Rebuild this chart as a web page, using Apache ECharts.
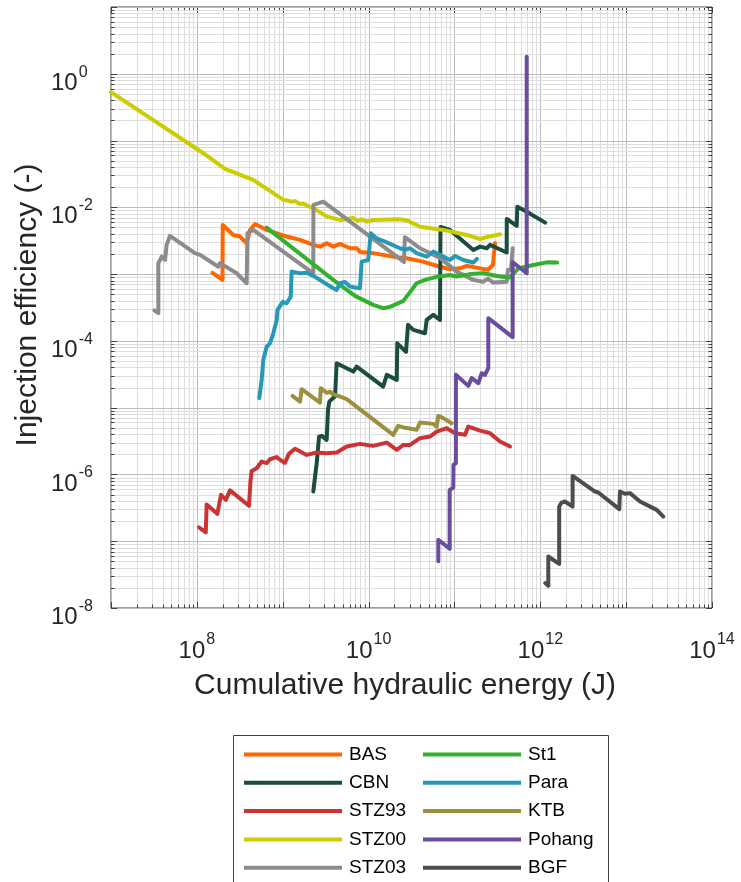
<!DOCTYPE html>
<html>
<head>
<meta charset="utf-8">
<script src="https://cdn.jsdelivr.net/npm/echarts@6/dist/echarts.min.js"></script>
<style>
  html, body { margin: 0; padding: 0; background: #fff; }
  #chart { width: 741px; height: 882px; }
</style>
</head>
<body>
<div id="chart"></div>
<script>
// Injection efficiency vs cumulative hydraulic energy, per stimulation project.
const SERIES_NAMES = ['BAS', 'CBN', 'STZ93', 'STZ00', 'STZ03', 'St1', 'Para', 'KTB', 'Pohang', 'BGF'];
const SERIES_COLORS = ['#ff6600', '#1b4d3e', '#cc3333', '#cccc00', '#8c8c8c', '#33b02e', '#2699b8', '#9a9040', '#6a4d9e', '#4d4d4d'];

// [cumulative hydraulic energy (J), injection efficiency (-)]
const BAS = [
  [1.52e8, 1.04e-3], [1.99e8, 8.2e-4], [2.0e8, 5.46e-3], [2.66e8, 3.86e-3], [3.18e8, 3.65e-3],
  [3.8e8, 2.9e-3], [4.16e8, 4.59e-3], [4.76e8, 5.64e-3], [6.5e8, 4.59e-3], [1.11e9, 3.65e-3],
  [1.59e9, 3.25e-3], [2.27e9, 2.74e-3], [2.72e9, 2.58e-3], [3.25e9, 2.9e-3], [3.88e9, 2.58e-3],
  [4.65e9, 2.83e-3], [6.08e9, 2.44e-3], [7.3e9, 2.44e-3], [7.95e9, 2.15e-3], [1.13e10, 2.06e-3],
  [1.47e10, 1.94e-3], [2.13e10, 1.79e-3], [2.78e10, 1.73e-3], [4.3e10, 1.54e-3], [6.79e10, 1.29e-3],
  [8.88e10, 1.18e-3], [1.16e11, 1.22e-3], [1.39e11, 1.33e-3], [1.99e11, 1.22e-3], [2.46e11, 1.16e-3],
  [2.81e11, 1.37e-3], [2.97e11, 2.93e-3]
];
const CBN = [
  [2.27e9, 5.55e-7], [2.49e9, 1.48e-6], [2.65e9, 3.69e-6], [2.85e9, 3.78e-6], [3.25e9, 3.3e-6],
  [3.37e9, 9.3e-6], [3.49e9, 1.23e-5], [3.85e9, 1.39e-5], [4.07e9, 1.47e-5], [4.25e9, 4.63e-5],
  [5.56e9, 3.9e-5], [6.64e9, 3.47e-5], [7.27e9, 4.12e-5], [1.48e10, 2.07e-5], [1.63e10, 3.1e-5],
  [2.13e10, 2.61e-5], [2.16e10, 9.2e-5], [2.73e10, 6.84e-5], [2.88e10, 1.74e-4], [3.32e10, 1.46e-4],
  [4.54e10, 1.3e-4], [4.75e10, 2.06e-4], [5.67e10, 2.45e-4], [6.79e10, 2.06e-4], [6.88e10, 5.09e-3],
  [8.88e10, 4.59e-3], [1.66e11, 2.3e-3], [1.99e11, 2.58e-3], [2.38e11, 2.44e-3], [2.6e11, 2.74e-3],
  [4.06e11, 2.11e-3], [4.07e11, 6.7e-3], [5.31e11, 5.27e-3], [5.4e11, 1.02e-2], [6.95e11, 8.6e-3],
  [1.14e12, 5.9e-3]
];
const STZ93 = [
  [1.06e8, 1.61e-7], [1.27e8, 1.36e-7], [1.3e8, 3.56e-7], [1.73e8, 2.57e-7], [1.91e8, 4.95e-7],
  [2.18e8, 4.17e-7], [2.43e8, 5.78e-7], [4.05e8, 3.39e-7], [4.21e8, 7.88e-7], [4.35e8, 1.13e-6],
  [4.98e8, 1.24e-6], [5.69e8, 1.56e-6], [6.5e8, 1.48e-6], [7.11e8, 1.69e-6], [8.5e8, 1.82e-6],
  [9.3e8, 1.66e-6], [1.06e9, 1.49e-6], [1.18e9, 2.03e-6], [1.39e9, 2.42e-6], [1.9e9, 1.96e-6],
  [2.49e9, 2.13e-6], [3.25e9, 2.08e-6], [4.25e9, 2.13e-6], [5.56e9, 2.62e-6], [7.94e9, 2.87e-6],
  [1.13e10, 2.68e-6], [1.63e10, 3.0e-6], [2.13e10, 2.34e-6], [2.54e10, 2.77e-6], [3.04e10, 2.77e-6],
  [3.97e10, 3.49e-6], [5.19e10, 3.69e-6], [6.21e10, 4.39e-6], [8.12e10, 4.93e-6], [1.02e11, 4.15e-6],
  [1.33e11, 3.92e-6], [1.45e11, 5.21e-6], [1.99e11, 4.54e-6], [2.6e11, 4.15e-6], [3.4e11, 3.11e-6],
  [4.44e11, 2.62e-6]
];
const STZ00 = [
  [1e7, 0.53], [1.19e8, 0.0646], [2.13e8, 0.0376], [4.54e8, 0.0257], [7.1e8, 0.0176],
  [1.02e9, 0.0129], [1.11e9, 0.0128], [1.27e9, 0.0121], [1.39e9, 0.0124], [1.59e9, 0.0112],
  [1.74e9, 0.0114], [2.08e9, 0.0101], [2.25e9, 0.0098], [3.28e9, 0.00726], [4.65e9, 0.00648],
  [6.59e9, 0.00694], [7.5e9, 0.0063], [8.3e9, 0.0066], [9.6e9, 0.0061], [1.13e10, 0.00648],
  [2.32e10, 0.00664], [2.8e10, 0.00637], [3.98e10, 0.00513], [7.4e10, 0.00459], [1.4e11, 0.00386],
  [1.99e11, 0.00336], [2.4e11, 0.0036], [3.4e11, 0.00395]
];
const STZ03 = [
  [3.2e7, 2.86e-4], [3.56e7, 2.6e-4], [3.56e7, 1.46e-3], [3.9e7, 1.83e-3], [4.26e7, 1.63e-3],
  [4.45e7, 2.74e-3], [4.65e7, 2.58e-3], [4.86e7, 3.73e-3], [9.5e7, 2.06e-3], [1.09e8, 1.94e-3],
  [1.78e8, 1.29e-3], [1.86e8, 1.46e-3], [2.91e8, 1.03e-3], [3.8e8, 7.3e-4], [3.89e8, 4.14e-3],
  [4.54e8, 4.59e-3], [2.27e9, 1.03e-3], [2.28e9, 1.086e-2], [2.97e9, 1.217e-2], [2.58e10, 1.52e-3],
  [2.65e10, 3.57e-3], [3.97e10, 2.44e-3], [6.79e10, 1.75e-3], [1.06e11, 1.09e-3], [1.66e11, 8.2e-4],
  [2.15e11, 7.7e-4], [2.46e11, 8.5e-4], [2.81e11, 7.5e-4], [4.06e11, 7.7e-4], [4.2e11, 1.16e-3],
  [4.56e11, 1.16e-3], [4.77e11, 2.44e-3]
];
const ST1 = [
  [6.5e8, 4.97e-3], [3.88e9, 8.2e-4], [6.95e9, 4.72e-4], [1.13e10, 3.46e-4], [1.48e10, 3.09e-4],
  [1.77e10, 3.23e-4], [2.13e10, 3.58e-4], [2.54e10, 3.97e-4], [3.18e10, 5.8e-4], [3.63e10, 7.3e-4],
  [4.54e10, 8.2e-4], [6.21e10, 9.1e-4], [8.88e10, 9.7e-4], [1.06e11, 9.2e-4], [1.52e11, 1.0e-3],
  [2.17e11, 1.03e-3], [3.4e11, 9.2e-4], [4.44e11, 8.9e-4], [5.55e11, 1.22e-3], [8.3e11, 1.37e-3],
  [1.19e12, 1.5e-3], [1.57e12, 1.49e-3]
];
const PARA = [
  [5.33e8, 1.39e-5], [5.69e8, 2.61e-5], [5.94e8, 5.2e-5], [6.5e8, 8.2e-5], [7.1e8, 9.2e-5],
  [7.77e8, 1.3e-4], [8.5e8, 2.06e-4], [8.7e8, 2.91e-4], [1.0e9, 3.84e-4], [1.11e9, 3.66e-4],
  [1.24e9, 4.6e-4], [1.27e9, 1.09e-3], [1.59e9, 1.03e-3], [1.9e9, 1.05e-3], [2.27e9, 9.4e-4],
  [3.88e9, 6.15e-4], [4.25e9, 5.8e-4], [4.65e9, 7.3e-4], [5.31e9, 7.6e-4], [6.08e9, 6.5e-4],
  [7.94e9, 6.15e-4], [8.3e9, 1.54e-3], [9.9e9, 1.63e-3], [1.06e10, 4.09e-3], [1.24e10, 3.44e-3],
  [1.55e10, 3.07e-3], [1.63e10, 3.25e-3], [2.32e10, 2.44e-3], [2.65e10, 2.3e-3], [3.04e10, 2.44e-3],
  [3.63e10, 2.06e-3], [4.75e10, 1.83e-3], [5.67e10, 2.17e-3], [6.79e10, 1.94e-3], [8.88e10, 1.63e-3],
  [1.02e11, 1.87e-3], [1.27e11, 1.63e-3], [1.66e11, 1.49e-3], [1.83e11, 1.69e-3]
];
const KTB = [
  [1.3e9, 1.5e-5], [1.59e9, 1.23e-5], [1.66e9, 1.89e-5], [2.72e9, 1.19e-5], [2.77e9, 1.96e-5],
  [3.28e9, 1.67e-5], [3.55e9, 1.74e-5], [3.88e9, 1.58e-5], [4.65e9, 1.47e-5], [5.56e9, 1.34e-5],
  [1.94e10, 3.92e-6], [2.22e10, 5.35e-6], [2.65e10, 4.99e-6], [3.63e10, 4.66e-6], [3.97e10, 5.99e-6],
  [5.67e10, 5.72e-6], [6.21e10, 5.21e-6], [6.49e10, 7.54e-6], [7.41e10, 6.97e-6], [9.29e10, 5.86e-6]
];
const POHANG = [
  [6.49e10, 5.0e-8], [6.49e10, 1.05e-7], [8.8e10, 7.7e-8], [8.8e10, 5.87e-7], [9.7e10, 6.3e-7],
  [9.76e10, 1.39e-6], [1.04e11, 1.48e-6], [1.04e11, 3.1e-5], [1.45e11, 2.12e-5], [1.59e11, 2.77e-5],
  [1.9e11, 2.33e-5], [2.08e11, 3.28e-5], [2.27e11, 3.1e-5], [2.48e11, 3.9e-5], [2.48e11, 2.19e-4],
  [4.76e11, 1.14e-4], [4.76e11, 1.52e-3], [6.95e11, 1.03e-3], [6.95e11, 1.8]
];
const BGF = [
  [1.14e12, 2.36e-8], [1.24e12, 2.15e-8], [1.24e12, 5.9e-8], [1.66e12, 4.59e-8], [1.66e12, 3.3e-7],
  [1.77e12, 3.79e-7], [1.94e12, 3.93e-7], [2.38e12, 3.3e-7], [2.38e12, 9.5e-7], [4.34e12, 5.55e-7],
  [4.74e12, 5.36e-7], [8.32e12, 3.02e-7], [8.47e12, 5.55e-7], [9.69e12, 5.13e-7], [1.11e13, 5.25e-7],
  [1.45e13, 3.93e-7], [2.27e13, 2.95e-7], [2.71e13, 2.34e-7]
];
const SERIES_DATA = [BAS, CBN, STZ93, STZ00, STZ03, ST1, PARA, KTB, POHANG, BGF];

// Axis extents as decades
const X_EXP = [7, 14];
const Y_EXP = [-8, 1];

const FONT = '"Liberation Sans", Arial, Helvetica, sans-serif';
const TEXT_COLOR = '#262626';
const AXIS_COLOR = '#404040';
const GRID_MAJOR = '#bdbdbd';
const GRID_MINOR = '#dedede';

// Log grid positions: 1..9 x 10^e inside each decade
function decadeSteps(lo, hi) {
  const out = [];
  for (let e = lo; e < hi; e++) {
    for (let m = 1; m < 10; m++) out.push({ v: m * Math.pow(10, e), major: m === 1 });
  }
  out.push({ v: Math.pow(10, hi), major: true });
  return out;
}
const gridData = [];
decadeSteps(X_EXP[0], X_EXP[1]).forEach(s => gridData.push([s.v, Math.pow(10, Y_EXP[0]), s.major ? 1 : 0]));
decadeSteps(Y_EXP[0], Y_EXP[1]).forEach(s => gridData.push([Math.pow(10, X_EXP[0]), s.v, s.major ? 3 : 2]));

function renderGrid(params, api) {
  const kind = api.value(2);
  const cs = params.coordSys;
  const major = kind === 1 || kind === 3;
  const len = major ? 6 : 3.5;
  const stroke = major ? GRID_MAJOR : GRID_MINOR;
  const pt = api.coord([api.value(0), api.value(1)]);
  const children = [];
  if (kind < 2) {
    const x = Math.round(pt[0]) + 0.5;
    const y0 = cs.y, y1 = cs.y + cs.height;
    children.push({ type: 'line', shape: { x1: x, y1: y0, x2: x, y2: y1 }, style: { stroke: stroke, lineWidth: 1 } });
    children.push({ type: 'line', shape: { x1: x, y1: y1, x2: x, y2: y1 - len }, style: { stroke: AXIS_COLOR, lineWidth: 1 } });
    children.push({ type: 'line', shape: { x1: x, y1: y0, x2: x, y2: y0 + len }, style: { stroke: AXIS_COLOR, lineWidth: 1 } });
  } else {
    const y = Math.round(pt[1]) + 0.5;
    const x0 = cs.x, x1 = cs.x + cs.width;
    children.push({ type: 'line', shape: { x1: x0, y1: y, x2: x1, y2: y }, style: { stroke: stroke, lineWidth: 1 } });
    children.push({ type: 'line', shape: { x1: x0, y1: y, x2: x0 + len, y2: y }, style: { stroke: AXIS_COLOR, lineWidth: 1 } });
    children.push({ type: 'line', shape: { x1: x1, y1: y, x2: x1 - len, y2: y }, style: { stroke: AXIS_COLOR, lineWidth: 1 } });
  }
  return { type: 'group', children: children };
}

function powerLabel(v) {
  const e = Math.round(Math.log10(v));
  if (e % 2 !== 0) return '';
  return '{b|10}{e|' + e + '}';
}
const labelRich = {
  b: { fontSize: 24, lineHeight: 24, fontFamily: FONT, color: TEXT_COLOR, verticalAlign: 'bottom' },
  e: { fontSize: 16, lineHeight: 16, fontFamily: FONT, color: TEXT_COLOR, verticalAlign: 'bottom', padding: [0, 0, 15, 1] }
};

const lineSeries = SERIES_NAMES.map((name, i) => ({
  name: name,
  type: 'line',
  data: SERIES_DATA[i],
  showSymbol: false,
  symbol: 'none',
  color: SERIES_COLORS[i],
  lineStyle: { width: 4, color: SERIES_COLORS[i], join: 'round', cap: 'round' },
  z: 3 + i,
  clip: true,
  animation: false
}));

const legendBase = {
  orient: 'vertical',
  icon: 'rect',
  itemWidth: 98,
  itemHeight: 4,
  itemGap: 9.3,
  padding: 0,
  selectedMode: false,
  textStyle: { fontFamily: FONT, fontSize: 19, color: '#000', padding: [0, 0, 0, 2] }
};

const chart = echarts.init(document.getElementById('chart'), null, { renderer: 'canvas' });
chart.setOption({
  animation: false,
  backgroundColor: '#ffffff',
  grid: {
    left: 111, top: 7, width: 601, height: 601,
    show: true, borderColor: AXIS_COLOR, borderWidth: 1, backgroundColor: '#ffffff'
  },
  xAxis: {
    type: 'log', logBase: 10,
    min: Math.pow(10, X_EXP[0]), max: Math.pow(10, X_EXP[1]),
    splitNumber: 7,
    axisLine: { show: false },
    axisTick: { show: false },
    splitLine: { show: false },
    minorTick: { show: false },
    axisLabel: { formatter: powerLabel, rich: labelRich, margin: 31, interval: 0, hideOverlap: false, showMinLabel: true, showMaxLabel: true }
  },
  yAxis: {
    type: 'log', logBase: 10,
    min: Math.pow(10, Y_EXP[0]), max: Math.pow(10, Y_EXP[1]),
    splitNumber: 9,
    axisLine: { show: false },
    axisTick: { show: false },
    splitLine: { show: false },
    minorTick: { show: false },
    axisLabel: { formatter: powerLabel, rich: labelRich, margin: 60, align: 'left', padding: [19, 0, 0, 0], interval: 0, hideOverlap: false, showMinLabel: true, showMaxLabel: true }
  },
  legend: [
    Object.assign({}, legendBase, { left: 244, top: 745, data: SERIES_NAMES.slice(0, 5) }),
    Object.assign({}, legendBase, { left: 423, top: 745, data: SERIES_NAMES.slice(5) })
  ],
  graphic: [
    {
      type: 'rect', left: 233, top: 735, z: 0,
      shape: { width: 375, height: 160 },
      style: { fill: '#ffffff', stroke: AXIS_COLOR, lineWidth: 1 }
    },
    {
      type: 'text', x: 28, y: 305, rotation: Math.PI / 2, z: 10,
      style: { text: 'Injection efficiency (-)', font: '30px ' + FONT, fill: TEXT_COLOR, align: 'center', verticalAlign: 'middle' }
    },
    {
      type: 'text', x: 405, y: 686, z: 10,
      style: { text: 'Cumulative hydraulic energy (J)', font: '30px ' + FONT, fill: TEXT_COLOR, align: 'center', verticalAlign: 'middle' }
    }
  ],
  series: [{
    type: 'custom',
    name: 'grid',
    data: gridData,
    renderItem: renderGrid,
    encode: { x: 0, y: 1 },
    clip: false,
    silent: true,
    z: 1,
    animation: false
  }].concat(lineSeries)
});
</script>
</body>
</html>
